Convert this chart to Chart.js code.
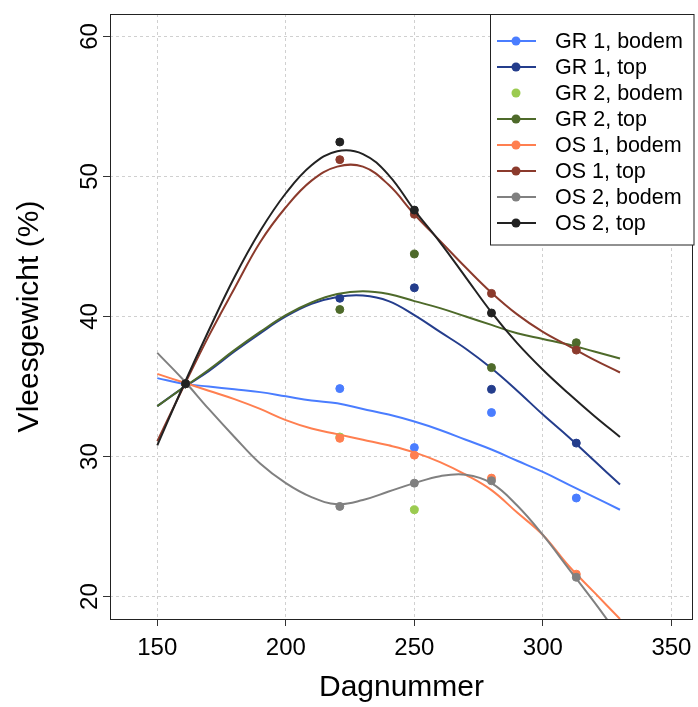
<!DOCTYPE html>
<html>
<head>
<meta charset="utf-8">
<script src="https://cdn.jsdelivr.net/npm/chart.js@4/dist/chart.umd.min.js"></script>
<style>
html,body{margin:0;padding:0;background:#fff;}
#wrap{width:698px;height:707px;position:relative;}
</style>
</head>
<body>
<div id="wrap"><canvas id="c"></canvas></div>
<script>
// ---------- data ----------
const seriesNames = ["GR 1, bodem","GR 1, top","GR 2, bodem","GR 2, top","OS 1, bodem","OS 1, top","OS 2, bodem","OS 2, top"];
const sampleDays = [161, 221, 250, 280, 313];

const gr1Bodem = [35.2, 34.85, 30.64, 33.14, 27.04];
const gr1Top   = [35.2, 41.3, 42.05, 34.8, 30.96];
const gr2Bodem = [35.2, 31.4, 26.2, null, null];
const gr2Top   = [35.2, 40.5, 44.46, 36.35, 38.13];
const os1Bodem = [35.2, 31.3, 30.1, 28.46, 21.6];
const os1Top   = [35.2, 51.2, 47.3, 41.65, 37.6];
const os2Bodem = [35.2, 26.44, 28.1, 28.27, 21.38];
const os2Top   = [35.2, 52.46, 47.6, 40.25, null];

// fitted curves, days 150..330
const curveDays = [150,160,170,180,190,200,210,220,230,240,250,260,270,280,290,300,310,320,330];
const gr1BodemCurve = [35.6,35.2,35.0,34.8,34.6,34.3,34.0,33.8,33.4,33.0,32.5,31.9,31.2,30.5,29.7,28.9,28.0,27.1,26.2];
const gr1TopCurve   = [33.6,34.9,36.1,37.5,38.8,40.0,40.9,41.4,41.5,41.1,40.1,38.9,37.7,36.3,34.7,33.0,31.4,29.7,28.0];
const gr2TopCurve   = [33.6,34.9,36.2,37.6,38.9,40.1,41.0,41.6,41.8,41.6,41.1,40.6,40.0,39.4,38.8,38.4,38.0,37.5,37.0];
const os1BodemCurve = [35.9,35.3,34.7,34.1,33.4,32.6,32.0,31.6,31.2,30.8,30.3,29.6,28.7,27.6,26.0,24.4,22.2,20.3,18.4];
const os1TopCurve   = [31.1,34.9,38.6,42.0,45.3,47.8,49.7,50.7,50.7,49.4,47.3,45.4,43.5,41.7,40.15,38.9,37.9,36.9,36.0];
const os2BodemCurve = [37.4,35.5,33.4,31.4,29.5,28.1,27.1,26.6,26.9,27.5,28.1,28.6,28.7,28.1,26.5,24.4,22.0,19.6,17.1];
const os2TopCurve   = [30.8,35.0,39.0,42.8,46.1,48.8,50.8,51.8,51.6,50.1,47.6,45.3,42.8,40.3,38.1,36.2,34.5,32.9,31.4];

const xTicks = [150, 200, 250, 300, 350];
const yTicks = [20, 30, 40, 50, 60];
const xTitle = "Dagnummer";
const yTitle = "Vleesgewicht (%)";

// ---------- styles ----------
const seriesColors = ["#4A7DFF","#243D8C","#9BCB50","#4E6A2A","#FF7F50","#8B3A2C","#808080","#222222"];
const seriesPoints = [gr1Bodem, gr1Top, gr2Bodem, gr2Top, os1Bodem, os1Top, os2Bodem, os2Top];
const seriesCurves = [gr1BodemCurve, gr1TopCurve, null, gr2TopCurve, os1BodemCurve, os1TopCurve, os2BodemCurve, os2TopCurve];

Chart.defaults.font.family = "'Liberation Sans', Arial, Helvetica, sans-serif";
Chart.defaults.color = "#000";

const datasets = [];
seriesNames.forEach((name, i) => {
  const col = seriesColors[i];
  if (seriesCurves[i]) {
    datasets.push({
      label: name + " (fit)",
      data: curveDays.map((d, k) => ({x: d, y: seriesCurves[i][k]})),
      showLine: true, borderColor: col, borderWidth: 2, pointRadius: 0,
      tension: 0.4, fill: false
    });
  }
  datasets.push({
    label: name,
    data: sampleDays.map((d, k) => ({x: d, y: seriesPoints[i][k]})).filter(p => p.y !== null),
    showLine: false, backgroundColor: col, borderColor: col, pointRadius: 4, pointBorderWidth: 1
  });
});
datasets.forEach((ds, idx) => { ds.order = -idx; });

const boxAndLabels = {
  id: 'boxAndLabels',
  afterDraw(chart) {
    const ctx = chart.ctx, a = chart.chartArea;
    const xs = chart.scales.x, ys = chart.scales.y;
    ctx.save();
    // plot box
    ctx.strokeStyle = '#222'; ctx.lineWidth = 1; ctx.setLineDash([]);
    ctx.strokeRect(Math.round(a.left) + 0.5, Math.round(a.top) + 0.5, Math.round(a.right - a.left) - 1, Math.round(a.bottom - a.top));
    // tick labels
    ctx.fillStyle = '#000';
    ctx.font = "24px 'Liberation Sans', Arial, sans-serif";
    ctx.textAlign = 'center'; ctx.textBaseline = 'middle';
    xTicks.forEach(v => { ctx.fillText(String(v), xs.getPixelForValue(v), 648); });
    yTicks.forEach(v => {
      ctx.save();
      ctx.translate(90, ys.getPixelForValue(v));
      ctx.rotate(-Math.PI / 2);
      ctx.fillText(String(v), 0, 0);
      ctx.restore();
    });
    // legend
    const lx = 490.5, ly = 14.5, lw = 694 - 490.5, lh = 245 - 14.5;
    ctx.fillStyle = '#fff';
    ctx.fillRect(lx, ly, lw, lh);
    ctx.strokeStyle = '#222';
    ctx.strokeRect(lx, ly, lw, lh);
    ctx.font = "21.5px 'Liberation Sans', Arial, sans-serif";
    ctx.textAlign = 'left';
    seriesNames.forEach((name, i) => {
      const y = 41 + i * 26;
      const col = seriesColors[i];
      if (seriesCurves[i]) {
        ctx.strokeStyle = col; ctx.lineWidth = 2;
        ctx.beginPath(); ctx.moveTo(497, y); ctx.lineTo(536, y); ctx.stroke();
      }
      ctx.fillStyle = col;
      ctx.beginPath(); ctx.arc(516, y, 4.5, 0, Math.PI * 2); ctx.fill();
      ctx.fillStyle = '#000';
      ctx.fillText(name, 555, y + 1);
    });
    ctx.restore();
  }
};

new Chart(document.getElementById('c'), {
  type: 'scatter',
  data: { datasets },
  options: {
    responsive: true, maintainAspectRatio: false, animation: false, events: [],
    layout: { padding: { top: 14, right: 4, bottom: 0, left: 0 } },
    plugins: { legend: { display: false }, tooltip: { enabled: false } },
    scales: {
      x: {
        type: 'linear', position: 'bottom', min: 131.6, max: 358.4,
        afterBuildTicks: s => { s.ticks = xTicks.map(v => ({value: v})); },
        afterFit: s => { s.height = 88; },
        ticks: { callback: () => '', padding: 0 },
        grid: { color: '#d0d0d0', lineWidth: 1, drawTicks: true, tickLength: 7, tickColor: '#333', tickWidth: 1, tickBorderDash: [] },
        border: { display: false, dash: [3, 3] },
        title: { display: true, text: xTitle, font: { size: 30 }, color: '#000', padding: { top: 0, bottom: 1 } }
      },
      y: {
        type: 'linear', position: 'left', min: 18.4, max: 61.6,
        afterBuildTicks: s => { s.ticks = yTicks.map(v => ({value: v})); },
        afterFit: s => { s.width = 110; },
        ticks: { callback: () => '', padding: 0 },
        grid: { color: '#d0d0d0', lineWidth: 1, drawTicks: true, tickLength: 7, tickColor: '#333', tickWidth: 1, tickBorderDash: [] },
        border: { display: false, dash: [3, 3] },
        title: { display: true, text: yTitle, font: { size: 30 }, color: '#000', padding: { top: 12, bottom: 0 } }
      }
    }
  },
  plugins: [boxAndLabels]
});
</script>
</body>
</html>
